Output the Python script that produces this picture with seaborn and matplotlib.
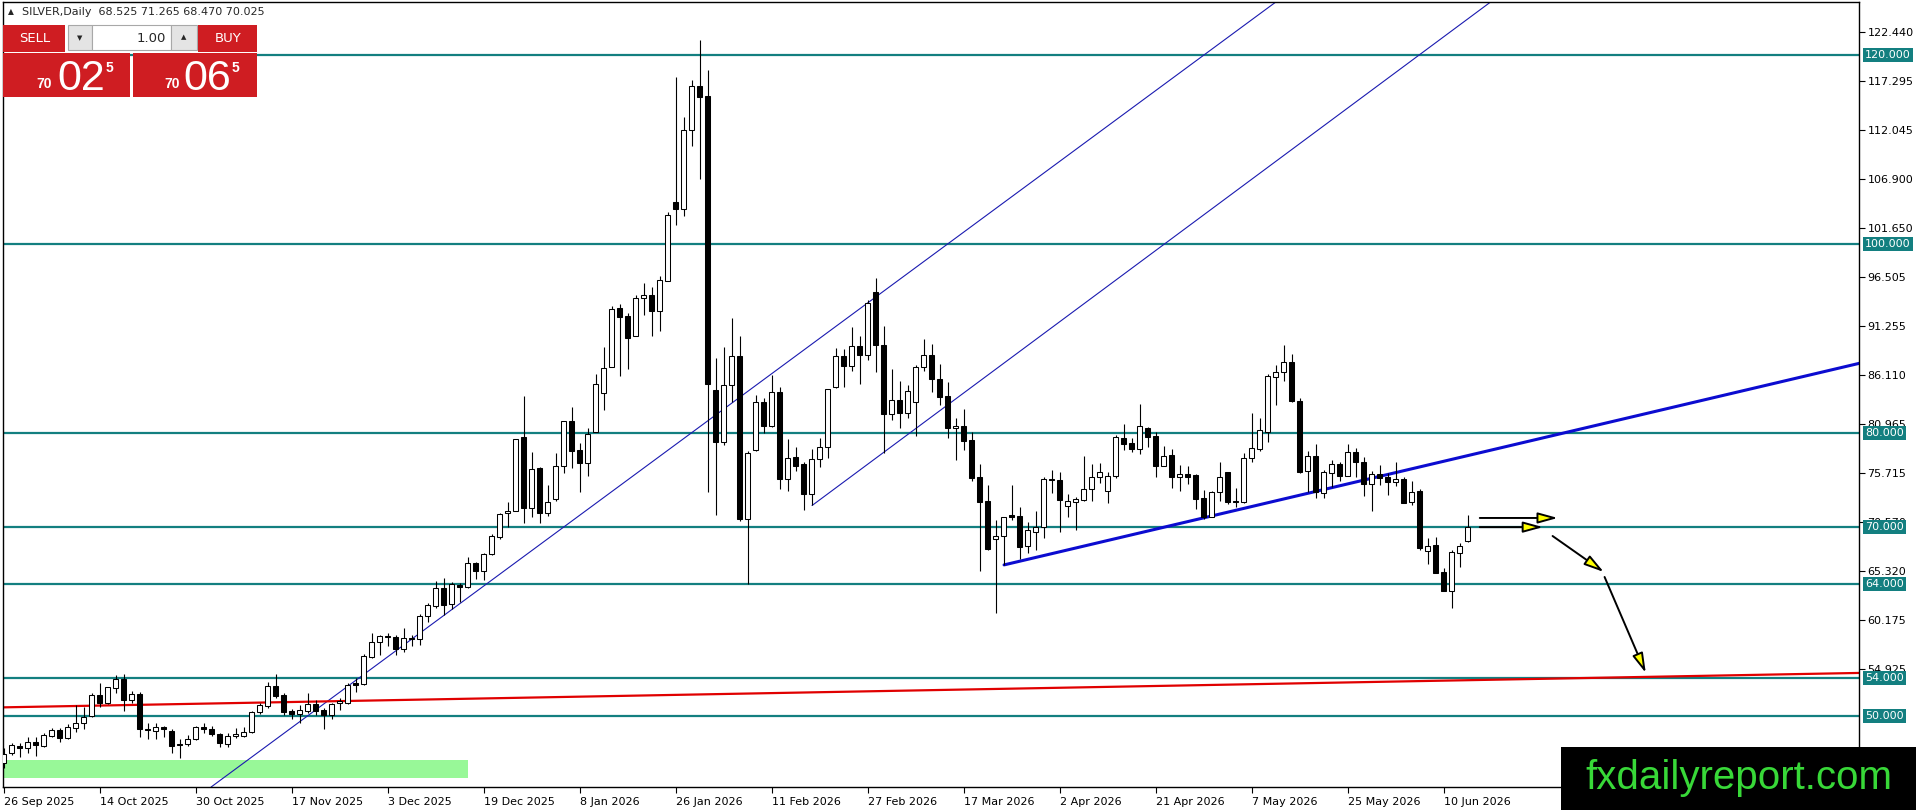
import numpy as np
import pandas as pd
import matplotlib
matplotlib.use("Agg")
import matplotlib.pyplot as plt
from matplotlib.patches import Rectangle
from matplotlib.transforms import blended_transform_factory
import seaborn as sns

# daily OHLC (bar 0 = 26 Sep 2025)
opens = [45.06, 46.05, 46.83, 46.58, 47.21, 46.86, 47.92, 48.52, 47.71, 48.77,
         49.23, 50.00, 52.23, 51.41, 53.00, 53.92, 51.70, 52.33, 48.66, 48.45,
         48.80, 48.45, 47.04, 47.00, 47.53, 48.87, 48.63, 48.06, 47.04, 47.92,
         47.92, 48.27, 50.39, 51.10, 53.18, 52.23, 50.53, 50.21, 50.57, 51.27,
         50.64, 50.11, 51.41, 51.34, 53.46, 53.35, 56.21, 57.87, 58.50, 58.40,
         57.06, 58.23, 58.12, 60.59, 61.68, 63.52, 61.82, 63.87, 63.62, 66.17,
         65.39, 67.12, 68.99, 71.46, 71.74, 79.51, 72.06, 76.23, 71.53, 73.01,
         76.51, 81.24, 78.17, 76.83, 80.11, 84.17, 86.92, 93.21, 92.36, 90.28,
         94.23, 94.56, 92.90, 96.09, 104.38, 103.68, 112.04, 116.70, 115.62, 84.51,
         79.04, 85.01, 88.09, 70.88, 78.19, 83.20, 80.66, 84.35, 75.11, 77.38,
         76.65, 73.46, 77.19, 78.46, 84.81, 88.09, 87.05, 89.13, 88.20, 94.90,
         89.24, 81.93, 83.47, 82.12, 83.20, 86.93, 88.20, 85.66, 83.85, 80.50,
         80.66, 79.23, 75.28, 72.77, 68.71, 69.10, 71.25, 71.18, 68.04, 69.52,
         69.98, 75.06, 74.99, 72.28, 72.70, 72.88, 74.00, 75.28, 73.86, 75.45,
         79.48, 78.88, 78.28, 80.54, 79.65, 76.51, 77.64, 75.35, 75.63, 75.52,
         73.05, 71.11, 73.69, 75.81, 72.77, 72.70, 77.29, 78.28, 80.11, 85.94,
         86.47, 87.45, 83.36, 75.98, 77.57, 73.58, 75.77, 76.65, 75.45, 77.92,
         76.86, 74.54, 75.60, 75.35, 74.75, 75.10, 72.63, 73.83, 67.51, 68.11,
         65.22, 63.27, 67.30, 68.525]
highs = [46.58, 47.11, 47.18, 47.74, 47.80, 48.24, 48.70, 48.70, 49.20, 51.17,
         50.99, 52.40, 53.46, 53.11, 54.34, 54.45, 52.68, 52.58, 49.23, 49.23,
         48.94, 48.59, 47.53, 47.99, 48.94, 49.23, 48.94, 48.17, 48.17, 48.70,
         48.80, 50.57, 51.41, 53.57, 54.41, 52.40, 50.71, 51.17, 52.40, 51.70,
         50.81, 51.41, 51.87, 53.46, 53.99, 56.57, 58.75, 58.58, 58.82, 58.58,
         59.28, 58.58, 60.77, 61.93, 64.33, 64.58, 64.22, 64.05, 66.80, 66.34,
         67.30, 69.27, 71.53, 72.63, 79.30, 83.89, 77.99, 76.33, 74.46, 77.81,
         81.24, 82.76, 78.94, 80.46, 86.22, 89.11, 93.40, 93.63, 92.71, 94.58,
         95.85, 95.40, 96.56, 103.37, 117.66, 113.39, 117.35, 121.59, 118.39, 87.90,
         89.05, 92.13, 90.28, 78.08, 83.97, 83.66, 86.16, 84.89, 79.35, 78.46,
         76.92, 78.27, 79.43, 84.62, 88.97, 88.86, 91.17, 90.28, 94.06, 96.37,
         91.28, 86.74, 85.51, 85.01, 87.13, 89.90, 89.44, 87.32, 85.39, 81.54,
         82.50, 80.11, 76.69, 74.46, 70.76, 71.11, 74.46, 72.17, 70.58, 71.74,
         75.35, 76.05, 75.87, 73.51, 73.16, 77.54, 76.69, 76.83, 75.88, 79.76,
         80.92, 79.41, 83.04, 80.64, 80.11, 78.60, 78.24, 76.58, 76.48, 75.63,
         73.93, 73.86, 76.86, 75.88, 74.11, 77.82, 82.05, 81.52, 86.22, 87.17,
         89.29, 88.34, 83.71, 78.10, 78.81, 76.05, 77.11, 76.86, 78.81, 78.42,
         77.46, 75.98, 76.58, 75.77, 76.93, 75.28, 74.92, 74.00, 68.82, 68.92,
         65.71, 67.58, 68.36, 71.265]
lows = [44.53, 45.87, 45.70, 46.05, 45.77, 46.68, 47.81, 47.29, 47.53, 48.34,
        48.59, 49.93, 50.99, 51.27, 52.40, 50.53, 51.34, 47.81, 47.53, 47.53,
        47.74, 46.12, 45.52, 46.83, 47.46, 48.24, 47.88, 46.75, 46.75, 47.64,
        47.81, 48.17, 50.21, 50.81, 51.87, 50.11, 49.65, 49.30, 50.36, 50.11,
        48.59, 49.65, 50.64, 51.27, 52.58, 53.29, 56.10, 56.46, 57.41, 56.46,
        56.81, 57.45, 57.52, 59.99, 61.40, 60.70, 61.30, 62.11, 63.52, 64.51,
        64.40, 67.05, 68.71, 70.05, 71.74, 70.47, 71.11, 70.47, 71.18, 72.80,
        75.70, 76.23, 73.76, 75.42, 80.11, 82.41, 86.92, 86.00, 86.75, 90.28,
        92.50, 90.28, 90.78, 96.09, 102.03, 102.91, 110.34, 106.84, 73.72, 71.26,
        78.66, 83.27, 70.64, 64.02, 78.08, 80.00, 80.58, 74.03, 73.84, 75.96,
        71.80, 72.30, 76.42, 77.31, 84.74, 84.81, 86.55, 85.20, 87.71, 86.43,
        77.88, 81.35, 80.50, 81.54, 79.62, 86.55, 84.35, 82.97, 79.43, 77.11,
        78.19, 74.92, 65.39, 67.58, 60.94, 65.99, 70.76, 66.59, 67.30, 67.58,
        68.82, 73.65, 69.52, 71.11, 69.70, 72.81, 72.81, 74.71, 72.59, 75.24,
        78.17, 77.99, 77.71, 78.45, 75.35, 76.51, 74.18, 73.86, 74.57, 71.92,
        70.83, 71.11, 72.81, 72.42, 72.17, 72.52, 76.93, 78.10, 79.05, 82.94,
        85.51, 83.29, 75.70, 73.76, 73.05, 73.05, 74.29, 74.92, 75.45, 75.35,
        73.34, 71.75, 74.47, 73.41, 74.40, 72.52, 72.35, 67.58, 66.06, 65.11,
        63.27, 61.40, 65.82, 68.47]
closes = [45.94, 46.93, 46.58, 47.21, 46.93, 47.99, 48.52, 47.71, 48.80, 49.23,
          49.86, 52.23, 51.34, 53.04, 53.92, 51.70, 52.30, 48.59, 48.48, 48.80,
          48.59, 46.86, 46.90, 47.53, 48.80, 48.63, 48.06, 47.11, 47.92, 48.06,
          48.34, 50.46, 51.17, 53.18, 52.12, 50.46, 50.21, 50.64, 51.27, 50.57,
          50.11, 51.27, 51.59, 53.29, 53.29, 56.35, 57.87, 58.44, 58.40, 57.06,
          58.23, 58.15, 60.59, 61.75, 63.52, 61.75, 63.98, 63.62, 66.17, 65.39,
          67.12, 69.06, 71.36, 71.74, 79.30, 72.06, 76.12, 71.53, 72.70, 76.51,
          81.24, 78.10, 76.83, 79.83, 85.14, 86.82, 93.06, 92.29, 90.06, 94.23,
          94.56, 92.90, 96.17, 103.10, 103.68, 112.04, 116.70, 115.54, 85.20, 79.04,
          85.01, 88.09, 70.88, 77.88, 83.20, 80.66, 84.35, 75.11, 77.31, 76.50,
          73.46, 77.19, 78.46, 84.62, 88.09, 87.05, 89.13, 88.20, 93.75, 89.24,
          81.93, 83.47, 82.12, 84.43, 86.93, 88.20, 85.66, 83.74, 80.50, 80.70,
          79.16, 75.17, 72.70, 67.69, 69.03, 71.11, 71.04, 67.93, 69.70, 69.98,
          75.10, 75.00, 72.88, 72.77, 72.98, 74.00, 75.28, 75.81, 75.45, 79.50,
          78.81, 78.28, 80.71, 79.58, 76.51, 77.57, 75.35, 75.63, 75.35, 72.98,
          71.11, 73.69, 75.28, 72.63, 72.63, 77.29, 78.35, 80.29, 86.01, 86.47,
          87.45, 83.36, 75.88, 77.57, 73.69, 75.81, 76.65, 75.45, 77.92, 76.86,
          74.54, 75.63, 75.17, 74.75, 75.10, 72.60, 73.76, 67.76, 68.04, 65.18,
          63.27, 67.41, 68.00, 70.025]

date_labels = ["26 Sep 2025", "14 Oct 2025", "30 Oct 2025", "17 Nov 2025",
               "3 Dec 2025", "19 Dec 2025", "8 Jan 2026", "26 Jan 2026",
               "11 Feb 2026", "27 Feb 2026", "17 Mar 2026", "2 Apr 2026",
               "21 Apr 2026", "7 May 2026", "25 May 2026", "10 Jun 2026"]
label_step = 12
price_ticks = [122.440, 117.295, 112.045, 106.900, 101.650, 96.505, 91.255,
               86.110, 80.965, 75.715, 70.570, 65.320, 60.175, 54.925]
levels = [120, 100, 80, 70, 64, 54, 50]

df = pd.DataFrame({"open": opens, "high": highs, "low": lows, "close": closes})
df["bar"] = np.arange(len(df))
df["up"] = df["close"] >= df["open"]
df["body_lo"] = df[["open", "close"]].min(axis=1)
df["body_h"] = (df["close"] - df["open"]).abs().clip(lower=0.06)

sns.set_theme(style="white")
plt.rcParams["font.family"] = ["DejaVu Sans"]

W, H = 1916, 810
fig = plt.figure(figsize=(W / 100, H / 100), dpi=100)
ax = fig.add_axes([3 / W, 23 / H, 1856 / W, 785 / H])
ax.set_facecolor("white")

teal = "#137f80"
for lv in levels:
    ax.axhline(lv, color=teal, lw=1.6, zorder=1)

# green zone bottom-left
ax.add_patch(Rectangle((-1, 43.40), 59, 1.95, facecolor="#98f898", edgecolor="none", zorder=0.5))

# candles
ax.vlines(df["bar"], df["low"], df["high"], color="black", lw=0.8, zorder=3)
ax.bar(df["bar"], df["body_h"], bottom=df["body_lo"], width=0.6,
       color=np.where(df["up"], "white", "black"), edgecolor="black",
       linewidth=0.75, zorder=4)

# drawn objects
ax.axline((44.625, 54.16), (120.875, 101.79), color="#1a1ab0", lw=0.8, zorder=2)
ch2_start = (101.04, 72.29)
ch2_slope = 0.6287
sns.lineplot(x=[ch2_start[0], 232], y=[ch2_start[1], ch2_start[1] + ch2_slope * (232 - ch2_start[0])],
             ax=ax, color="#1a1ab0", lw=0.8, zorder=2)
sns.lineplot(x=[125.04, 232], y=[66.0, 87.36], ax=ax, color="#0c0cd0", lw=2.2, zorder=2)
sns.lineplot(x=[-1, 232], y=[50.90, 54.56], ax=ax, color="#e00000", lw=1.6, zorder=2)

arrows = [((184.5, 70.97), (194.25, 70.97)),
          ((184.5, 70.0), (192.4, 70.0)),
          ((193.6, 69.06), (200.0, 65.25)),
          ((200.1, 64.72), (205.25, 54.56))]
for start, tip in arrows:
    ax.annotate("", xy=tip, xytext=start,
                arrowprops=dict(arrowstyle="-|>,head_length=0.8,head_width=0.22",
                                fc="#ffff00", ec="black", lw=1.4,
                                mutation_scale=15, shrinkA=0, shrinkB=0),
                zorder=6)

ax.set_xlim(-0.0875, 231.9)
ax.set_ylim(42.48, 125.61)

ax.set_xticks(np.arange(len(date_labels)) * label_step)
ax.set_xticklabels(date_labels, fontsize=8, color="black")
for lbl in ax.get_xticklabels():
    lbl.set_horizontalalignment("left")
ax.yaxis.tick_right()
ax.set_yticks(price_ticks)
ax.set_yticklabels([f"{v:.3f}" for v in price_ticks], fontsize=8, color="black")
ax.tick_params(axis="both", direction="out", length=4, width=0.8, color="black", pad=2)
ax.tick_params(axis="x", bottom=True, pad=3)
ax.tick_params(axis="y", right=True, left=False)
for s in ax.spines.values():
    s.set_color("black")
    s.set_linewidth(1)
ax.grid(False)

trans = blended_transform_factory(ax.transAxes, ax.transData)
for lv in levels:
    ax.text(1 + 6 / 1856, lv, f"{lv:.3f}", transform=trans, ha="left", va="center",
            color="white", fontsize=8, clip_on=False, zorder=7,
            bbox=dict(boxstyle="square,pad=0.18", fc=teal, ec="none"))


def fx(x):
    return x / W


def fy(y):
    return 1 - y / H


def box(x0, y0, x1, y1, fc, ec="none"):
    fig.add_artist(Rectangle((fx(x0), fy(y1)), (x1 - x0) / W, (y1 - y0) / H,
                             transform=fig.transFigure, facecolor=fc, edgecolor=ec, lw=0.8))


# header
fig.text(fx(11), fy(12), "▲", fontsize=5.5, ha="center", va="center")
fig.text(fx(22), fy(12), "SILVER,Daily  68.525 71.265 68.470 70.025", fontsize=8,
         ha="left", va="center")

# one-click trading panel
red = "#cf1d22"
box(3, 25, 65, 52, red)
box(68, 25, 92, 50, "#e4e4e4", "#a8a8a8")
box(92, 25, 171, 50, "white", "#a8a8a8")
box(171, 25, 197, 50, "#e4e4e4", "#a8a8a8")
box(198, 25, 257, 52, red)
box(3, 53, 130, 97, red)
box(133, 53, 257, 97, red)
fig.text(fx(35), fy(39), "SELL", color="white", fontsize=9.5, ha="center", va="center")
fig.text(fx(228), fy(39), "BUY", color="white", fontsize=9.5, ha="center", va="center")
fig.text(fx(80), fy(38), "▼", fontsize=5, ha="center", va="center")
fig.text(fx(184), fy(37), "▲", fontsize=5, ha="center", va="center")
fig.text(fx(166), fy(38), "1.00", fontsize=9.5, ha="right", va="center")
narrow = ["Liberation Sans Narrow", "Liberation Sans", "DejaVu Sans"]
for cx_small, cx_big, cx_sup, big in [(44.5, 81, 109, "02"), (172, 207, 235, "06")]:
    fig.text(fx(cx_small), fy(88), "70", color="white", fontsize=10, fontweight="bold",
             family=narrow, ha="center", va="baseline")
    fig.text(fx(cx_big), fy(90), big, color="white", fontsize=31,
             family=narrow, ha="center", va="baseline")
    fig.text(fx(cx_sup), fy(72), "5", color="white", fontsize=10, fontweight="bold",
             family=narrow, ha="center", va="baseline")

# watermark
box(1561, 747, 1916, 810, "black")
fig.text(fx(1739), fy(789), "fxdailyreport.com", color="#38d838", fontsize=29,
         family=["Liberation Sans", "DejaVu Sans"], ha="center", va="baseline")

fig.savefig("out.png", dpi=100, facecolor="white")
